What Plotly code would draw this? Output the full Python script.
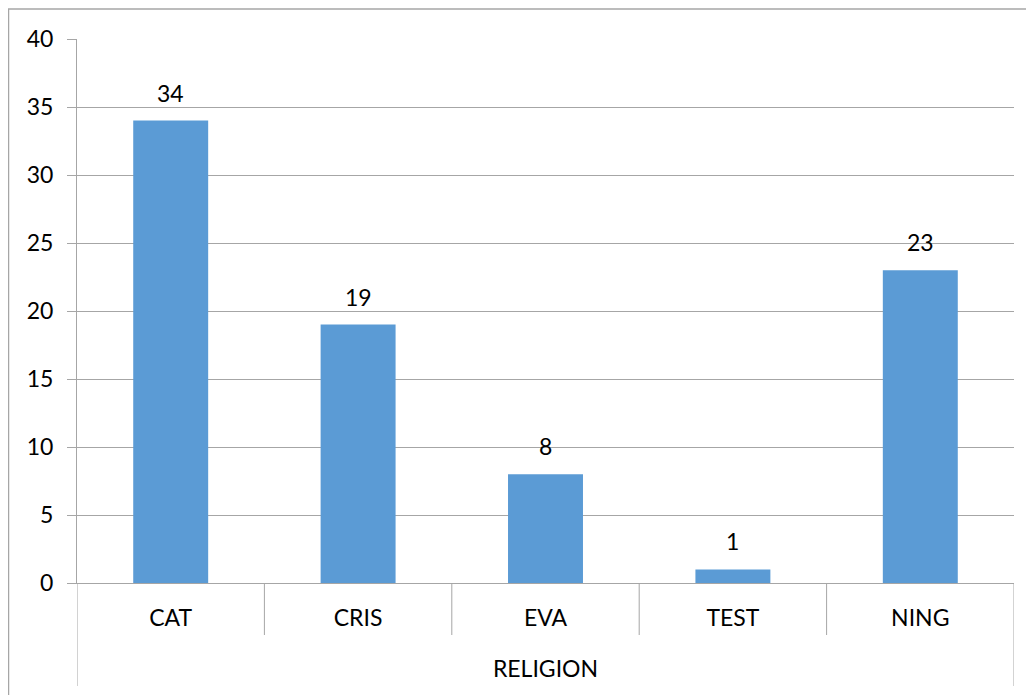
import plotly.graph_objects as go

categories = ["CAT", "CRIS", "EVA", "TEST", "NING"]
values = [34, 19, 8, 1, 23]
axis_title = "RELIGION"
y_ticks = [0, 5, 10, 15, 20, 25, 30, 35, 40]

GRID = "#A6A6A6"
FONT = "Lato, Open Sans, sans-serif"
# page body has an 8px margin, so the figure itself starts at (8, 8)
W, H = 1026, 687
ML, MR, MT, MB = 69, 20, 31, 112
PW, PH = W - ML - MR, H - MT - MB

fig = go.Figure(go.Bar(
    x=list(range(len(categories))), y=values,
    marker=dict(color="#5B9BD5", line=dict(width=0)),
    width=0.4,
    hoverinfo="skip",
))

def py(p):  # pixel y inside figure -> paper y
    return (H - MB - p) / PH

def px_(p):  # pixel x inside figure -> paper x
    return (p - ML) / PW

shapes = []
# category dividers (first level)
for i in range(1, len(categories)):
    shapes.append(dict(type="line", xref="x", yref="paper", x0=i - 0.5, x1=i - 0.5,
                       y0=0, y1=py(627), line=dict(color=GRID, width=1)))
# outer lines spanning the group level
for xv in (-0.5, len(categories) - 0.5):
    shapes.append(dict(type="line", xref="x", yref="paper", x0=xv, x1=xv,
                       y0=0, y1=py(678), line=dict(color=GRID, width=1)))
# chart border (top and left)
shapes.append(dict(type="line", xref="paper", yref="paper", x0=px_(0), x1=px_(W + 5),
                   y0=py(1), y1=py(1), line=dict(color=GRID, width=1.5)))
shapes.append(dict(type="line", xref="paper", yref="paper", x0=px_(0.5), x1=px_(0.5),
                   y0=py(1), y1=py(H + 5), line=dict(color=GRID, width=1.5)))

annotations = [
    dict(x=i, y=v, xref="x", yref="y", text=str(v), showarrow=False,
         yanchor="bottom", yshift=12, font=dict(size=23, family=FONT, color="black"))
    for i, v in enumerate(values)
]

fig.update_layout(
    width=W, height=H,
    margin=dict(l=ML, r=MR, t=MT, b=MB),
    plot_bgcolor="white", paper_bgcolor="white",
    showlegend=False,
    font=dict(family=FONT, size=23, color="black"),
    shapes=shapes,
    annotations=annotations,
    xaxis=dict(
        range=[-0.5, len(categories) - 0.5],
        tickmode="array", tickvals=list(range(len(categories))), ticktext=categories,
        showgrid=False, zeroline=False, showline=True, linecolor=GRID, linewidth=1,
        ticks="", ticklabelstandoff=14,
        tickfont=dict(size=23, family=FONT, color="black"),
        title=dict(text=axis_title, standoff=31, font=dict(size=23, family=FONT, color="black")),
        fixedrange=True,
    ),
    yaxis=dict(
        range=[0, 40], tickmode="array", tickvals=y_ticks,
        showgrid=True, gridcolor=GRID, gridwidth=1,
        zeroline=False, showline=True, linecolor=GRID, linewidth=1,
        ticks="outside", ticklen=9, tickcolor=GRID,
        ticklabelstandoff=9,
        tickfont=dict(size=23, family=FONT, color="black"),
        fixedrange=True,
    ),
)

fig.write_html("out.html")
